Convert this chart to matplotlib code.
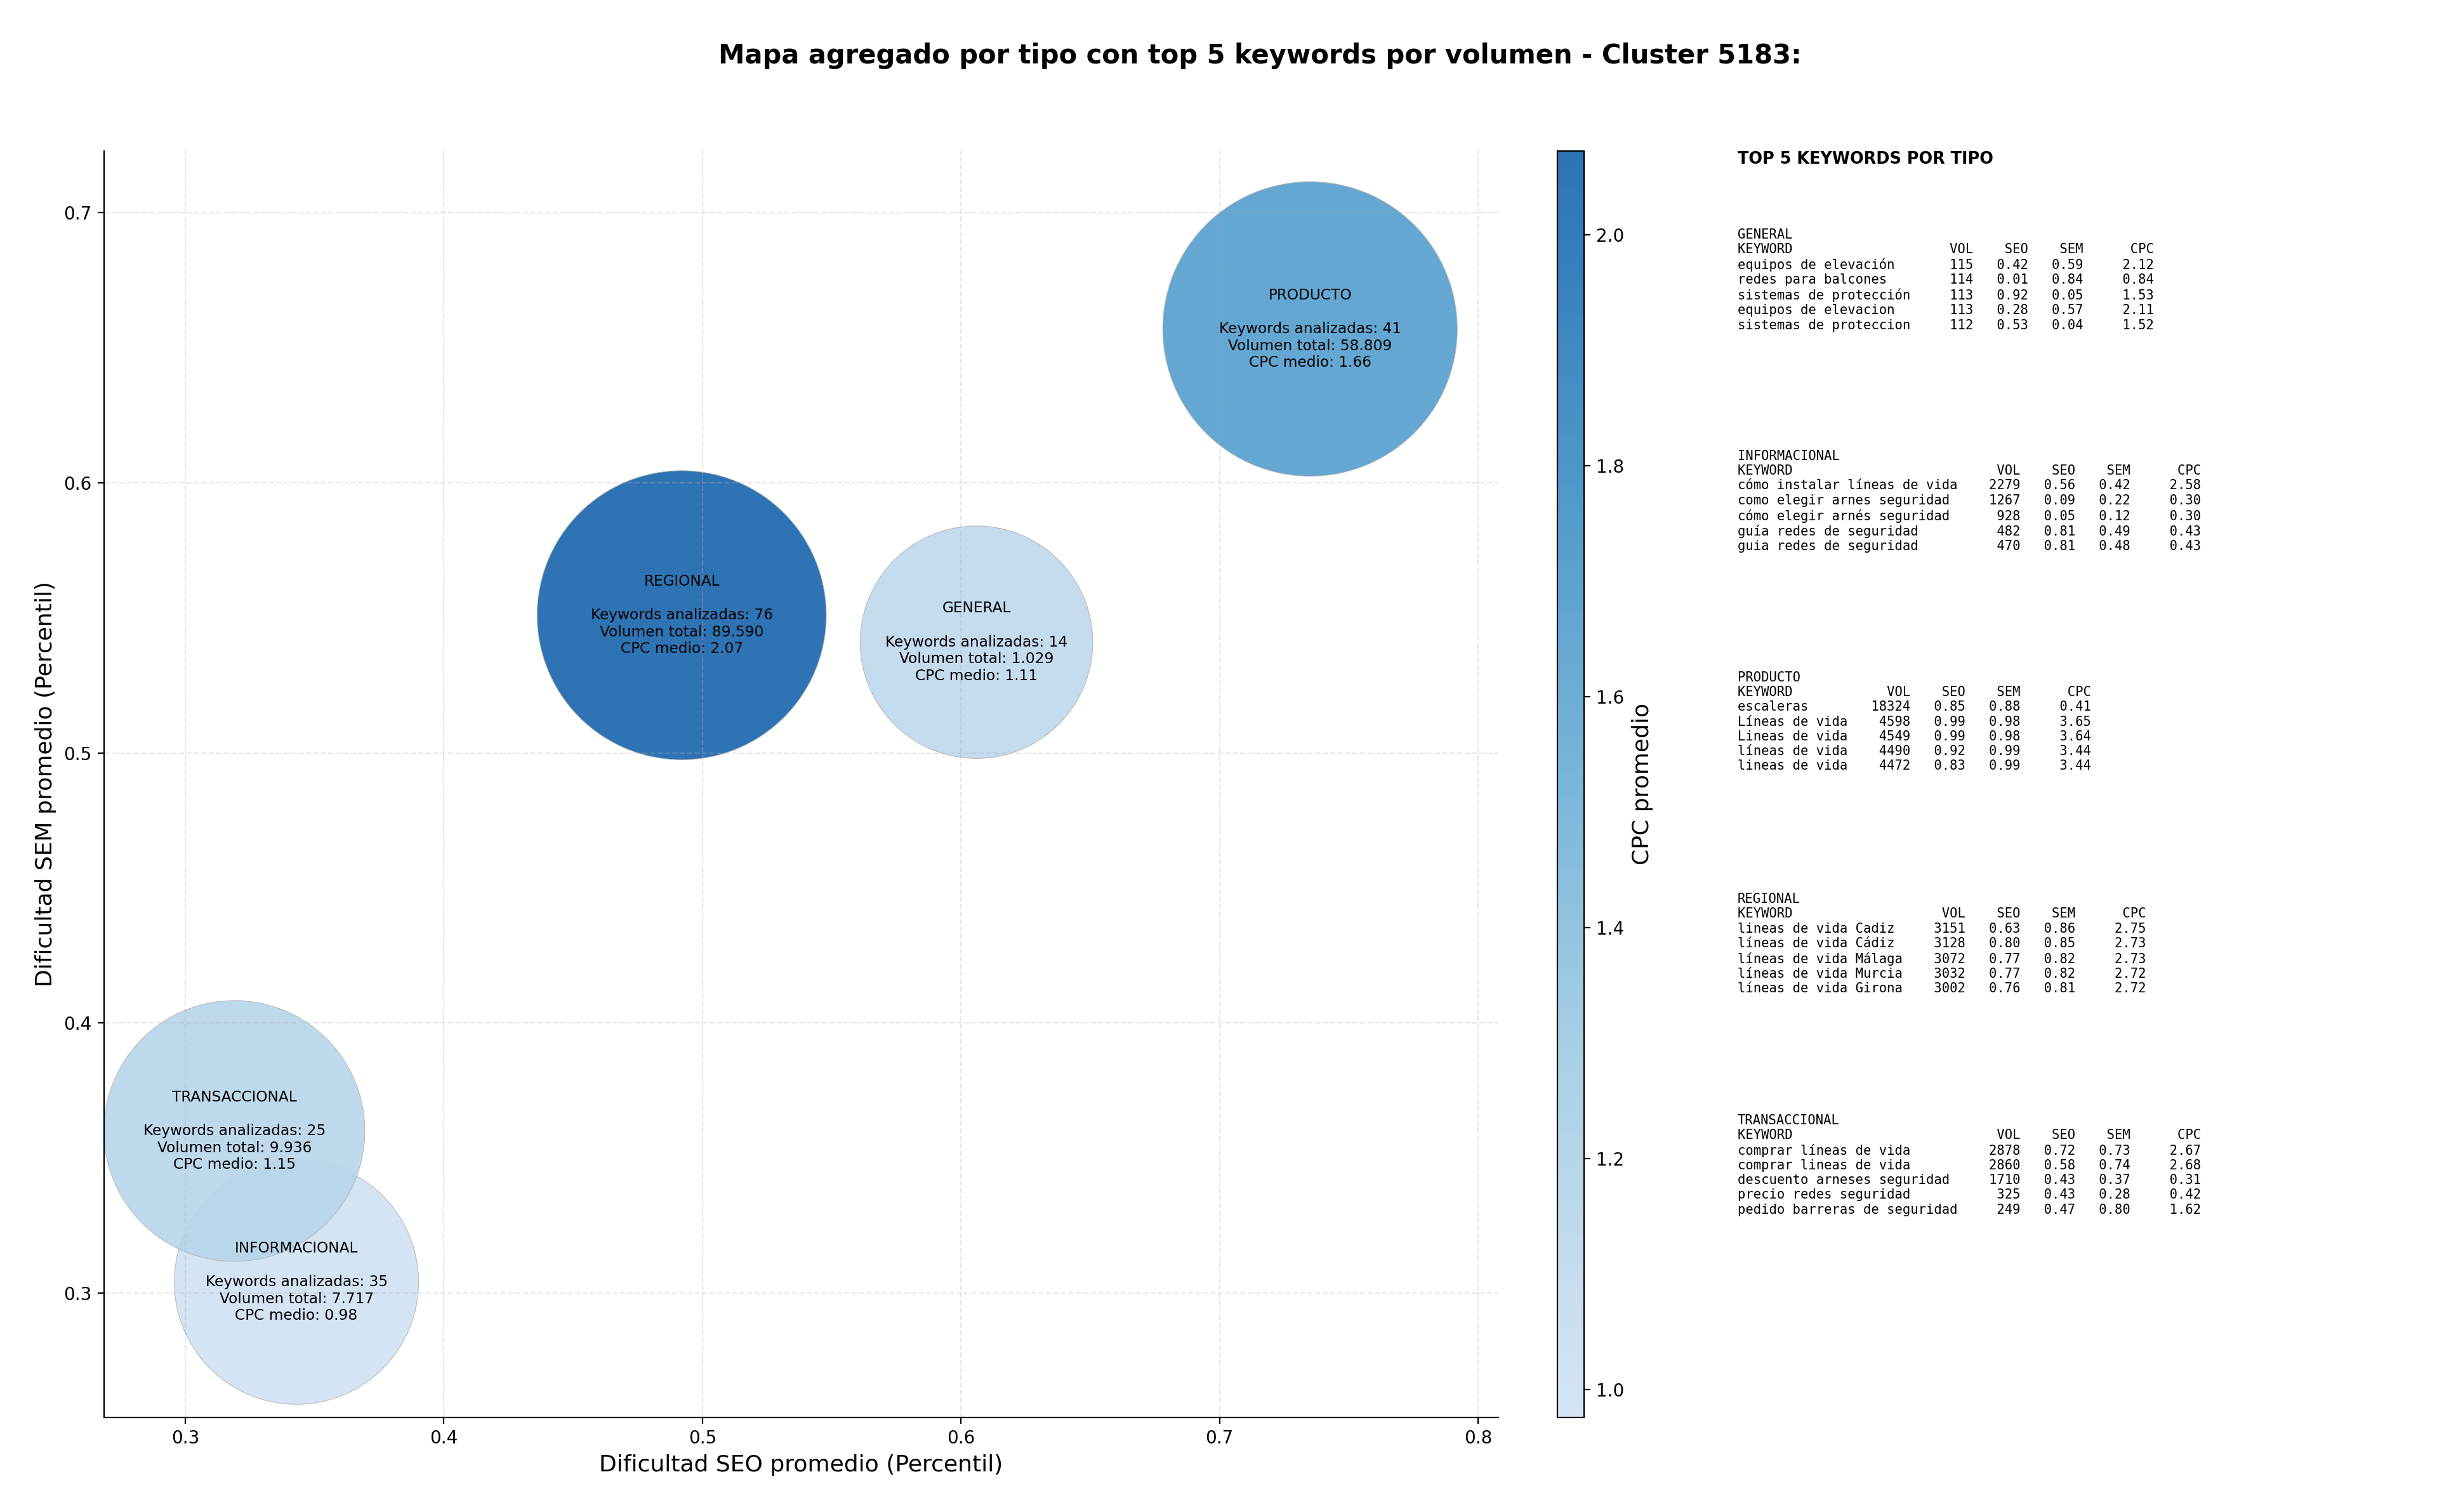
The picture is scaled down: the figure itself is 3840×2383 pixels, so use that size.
import numpy as np
import matplotlib
matplotlib.use("Agg")
import matplotlib.pyplot as plt
from matplotlib.colors import LinearSegmentedColormap, Normalize

# datos agregados por tipo
tipos = ['GENERAL', 'INFORMACIONAL', 'PRODUCTO', 'REGIONAL', 'TRANSACCIONAL']
seo_medio = [0.606, 0.343, 0.735, 0.492, 0.319]
sem_medio = [0.541, 0.304, 0.657, 0.551, 0.360]
n_keywords = [14, 35, 41, 76, 25]
volumen_total = [1029, 7717, 58809, 89590, 9936]
cpc_medio = [1.11, 0.976, 1.66, 2.073, 1.15]
area_burbuja = [17400, 19200, 27900, 26900, 21900]  # pt^2

# top 5 keywords por tipo: (keyword, vol, seo, sem, cpc)
top_general = [
    ('equipos de elevación', 115, 0.42, 0.59, 2.12),
    ('redes para balcones', 114, 0.01, 0.84, 0.84),
    ('sistemas de protección', 113, 0.92, 0.05, 1.53),
    ('equipos de elevacion', 113, 0.28, 0.57, 2.11),
    ('sistemas de proteccion', 112, 0.53, 0.04, 1.52),
]
top_informacional = [
    ('cómo instalar líneas de vida', 2279, 0.56, 0.42, 2.58),
    ('como elegir arnes seguridad', 1267, 0.09, 0.22, 0.30),
    ('cómo elegir arnés seguridad', 928, 0.05, 0.12, 0.30),
    ('guía redes de seguridad', 482, 0.81, 0.49, 0.43),
    ('guia redes de seguridad', 470, 0.81, 0.48, 0.43),
]
top_producto = [
    ('escaleras', 18324, 0.85, 0.88, 0.41),
    ('Líneas de vida', 4598, 0.99, 0.98, 3.65),
    ('Lineas de vida', 4549, 0.99, 0.98, 3.64),
    ('líneas de vida', 4490, 0.92, 0.99, 3.44),
    ('lineas de vida', 4472, 0.83, 0.99, 3.44),
]
top_regional = [
    ('lineas de vida Cadiz', 3151, 0.63, 0.86, 2.75),
    ('líneas de vida Cádiz', 3128, 0.80, 0.85, 2.73),
    ('líneas de vida Málaga', 3072, 0.77, 0.82, 2.73),
    ('líneas de vida Murcia', 3032, 0.77, 0.82, 2.72),
    ('líneas de vida Girona', 3002, 0.76, 0.81, 2.72),
]
top_transaccional = [
    ('comprar líneas de vida', 2878, 0.72, 0.73, 2.67),
    ('comprar lineas de vida', 2860, 0.58, 0.74, 2.68),
    ('descuento arneses seguridad', 1710, 0.43, 0.37, 0.31),
    ('precio redes seguridad', 325, 0.43, 0.28, 0.42),
    ('pedido barreras de seguridad', 249, 0.47, 0.80, 1.62),
]
tops = [top_general, top_informacional, top_producto, top_regional, top_transaccional]

# mapa de color: Blues recortado
blues = plt.get_cmap('Blues')
cmap = LinearSegmentedColormap.from_list('blues_mid', blues(np.linspace(0.2, 0.8, 256)))
norm = Normalize(vmin=min(cpc_medio), vmax=max(cpc_medio))

fig = plt.figure(figsize=(19.2, 2383 / 200), dpi=200)
ax = fig.add_axes([0.0427, 0.0627, 0.5721, 0.8376])
cax = fig.add_axes([0.639, 0.0627, 0.011, 0.8376])

sc = ax.scatter(seo_medio, sem_medio, s=area_burbuja, c=cpc_medio, cmap=cmap, norm=norm,
                alpha=0.9, edgecolors='#b5b5b5', linewidths=0.4)

for i, t in enumerate(tipos):
    vol = f"{volumen_total[i]:,}".replace(',', '.')
    txt = (f"{t}\n\nKeywords analizadas: {n_keywords[i]}\n"
           f"Volumen total: {vol}\nCPC medio: {cpc_medio[i]:.2f}")
    ax.text(seo_medio[i], sem_medio[i], txt, ha='center', va='center', fontsize=8.4,
            multialignment='center')

ax.set_xlim(0.2686, 0.8078)
ax.set_ylim(0.254, 0.723)
ax.set_xlabel('Dificultad SEO promedio (Percentil)', fontsize=13)
ax.set_ylabel('Dificultad SEM promedio (Percentil)', fontsize=13)
ax.grid(True, linestyle='--', alpha=0.3)
ax.spines['top'].set_visible(False)
ax.spines['right'].set_visible(False)

cb = fig.colorbar(sc, cax=cax)
cb.set_label('CPC promedio', fontsize=13)

fig.suptitle('Mapa agregado por tipo con top 5 keywords por volumen - Cluster 5183:',
             x=0.517, y=0.972, fontsize=15, fontweight='bold')

# panel de texto con el top 5
fig.text(0.713, 0.9, 'TOP 5 KEYWORDS POR TIPO', fontsize=9.2, fontweight='bold', va='top')
y0 = 0.849
for i, t in enumerate(tipos):
    filas = tops[i]
    w = max(len(r[0]) for r in filas)
    lineas = [t, f"{'KEYWORD':<{w}}{'VOL':>8}{'SEO':>7}{'SEM':>7}{'CPC':>9}"]
    for kw, v, s1, s2, c in filas:
        lineas.append(f"{kw:<{w}}{v:>8}{s1:>7.2f}{s2:>7.2f}{c:>9.2f}")
    fig.text(0.713, y0 - i * 0.1465, '\n'.join(lineas), fontsize=7.4,
             family='DejaVu Sans Mono', va='top')

fig.savefig('out.png', dpi=200)
